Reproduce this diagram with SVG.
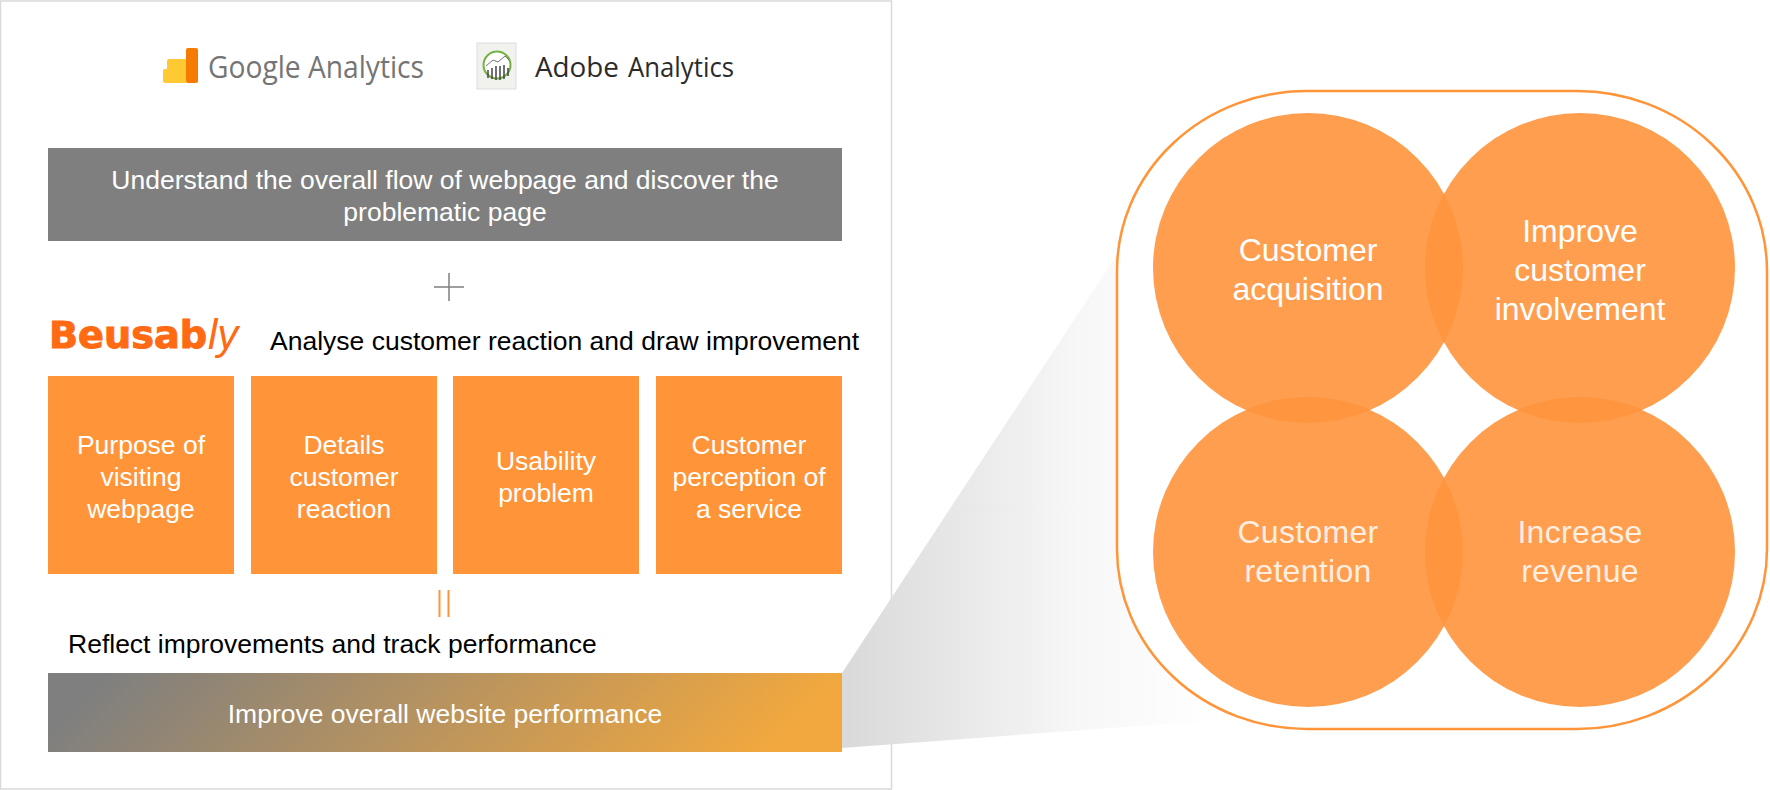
<svg xmlns="http://www.w3.org/2000/svg" width="1770" height="790" viewBox="0 0 1770 790">
<defs>
<linearGradient id="perf" gradientUnits="userSpaceOnUse" x1="100" y1="680" x2="470" y2="1050"><stop offset="0" stop-color="#7f7f7f"/><stop offset="1" stop-color="#f2a83e"/></linearGradient>
<linearGradient id="beam" gradientUnits="userSpaceOnUse" x1="842" y1="0" x2="1220" y2="0"><stop offset="0" stop-color="#d9d9d9"/><stop offset=".63" stop-color="#f7f7f7"/><stop offset="1" stop-color="#ffffff"/></linearGradient>
</defs>
<style>
text{font-family:"Liberation Sans",Arial,sans-serif}
.w{fill:#fff;font-size:26.500px;text-anchor:middle}
.b{fill:#000;font-size:26.500px}
.c{fill:#fff;font-size:32px;text-anchor:middle}
.l{fill-opacity:.85}
.logo{font-family:"Open Sans","Liberation Sans",sans-serif}
.box{fill:#ff9438}
.circ{fill:#ff943c;fill-opacity:.9}
</style>
<rect id="frame" x="0.5" y="1" width="891" height="788" fill="#fff" stroke="#d9d9d9" stroke-width="1.5"/>
<path id="zoom-beam" d="M842 673L1120 250L1220 720L842 748Z" fill="url(#beam)"/>
<g id="logos">
<g id="google-analytics">
<rect x="163" y="69" width="12" height="14" rx="2" fill="#ffc933"/>
<rect x="167" y="59" width="20" height="24" rx="2" fill="#ffc933"/>
<rect x="186" y="48" width="12" height="35" rx="2" fill="#f57c00"/>
<text class="logo" x="208" y="78" font-size="31" fill="#757575" textLength="216" lengthAdjust="spacingAndGlyphs">Google Analytics</text>
</g>
<g id="adobe-analytics">
<rect x="477" y="43" width="39" height="46" fill="#f1f1ee" stroke="#ddd"/>
<circle cx="497" cy="65" r="13.500" fill="#fff" stroke="#76b043" stroke-width="2"/>
<path d="M488 70V78M492 68V79M496 66V80M500 66V80M504 65V79M508 68V76" stroke="#444" stroke-width="1.5" fill="none"/>
<path d="M486 66L493 60L498 62L505 56L509 60" stroke="#777" fill="none"/>
<text class="logo" x="535" y="77" font-size="28" fill="#2b2b2b" textLength="84" lengthAdjust="spacingAndGlyphs">Adobe</text>
<text class="logo" x="628" y="77" font-size="28" fill="#2b2b2b" textLength="106" lengthAdjust="spacingAndGlyphs">Analytics</text>
</g>
</g>
<g id="overview"><rect x="48" y="148" width="794" height="93" fill="#7f7f7f"/>
<text class="w" x="445" y="189">Understand the overall flow of webpage and discover the</text>
<text class="w" x="445" y="221">problematic page</text></g>
<g id="plus"><path d="M449 273V301M434 287H464" stroke="#7f7f7f" stroke-width="1.5" fill="none"/></g>
<g id="beusably">
<text x="49" y="348" font-size="37" font-weight="700" fill="#ff6a13" stroke="#ff6a13" stroke-width="1" textLength="158" lengthAdjust="spacingAndGlyphs" style="font-family:'DejaVu Sans',sans-serif">Beusab</text>
<text x="208" y="349" font-size="42" font-style="italic" fill="#ff6a13">ly</text>
</g>
<text id="analyse" class="b" x="270" y="350">Analyse customer reaction and draw improvement</text>
<g id="n1"><rect class="box" x="48" y="376" width="186" height="198"/>
<text class="w" x="141" y="454">Purpose of</text><text class="w" x="141" y="486">visiting</text><text class="w" x="141" y="518">webpage</text></g>
<g id="n2"><rect class="box" x="251" y="376" width="186" height="198"/>
<text class="w" x="344" y="454">Details</text><text class="w" x="344" y="486">customer</text><text class="w" x="344" y="518">reaction</text></g>
<g id="n3"><rect class="box" x="453" y="376" width="186" height="198"/>
<text class="w" x="546" y="470">Usability</text><text class="w" x="546" y="502">problem</text></g>
<g id="n4"><rect class="box" x="656" y="376" width="186" height="198"/>
<text class="w" x="749" y="454">Customer</text><text class="w" x="749" y="486">perception of</text><text class="w" x="749" y="518">a service</text></g>
<g id="equals"><path d="M439.500 590V617M448.500 590V617" stroke="#ff9438" stroke-width="2" fill="none"/></g>
<text id="reflect" class="b" x="68" y="653">Reflect improvements and track performance</text>
<g id="performance"><rect x="48" y="673" width="794" height="79" fill="url(#perf)"/>
<text class="w" x="445" y="723">Improve overall website performance</text></g>
<g id="outcomes">
<rect x="1117" y="91" width="650" height="638" rx="190" ry="180" fill="#fff" stroke="#ff9438" stroke-width="2.500"/>
<g id="c1"><circle class="circ" cx="1308" cy="268" r="155"/></g>
<g id="c2"><circle class="circ" cx="1580" cy="268" r="155"/></g>
<g id="c3"><circle class="circ" cx="1308" cy="552" r="155"/></g>
<g id="c4"><circle class="circ" cx="1580" cy="552" r="155"/></g>
<text class="c" x="1308" y="261">Customer</text><text class="c" x="1308" y="300">acquisition</text>
<text class="c" x="1580" y="242">Improve</text><text class="c" x="1580" y="281">customer</text><text class="c" x="1580" y="320">involvement</text>
<text class="c l" x="1308" y="543" letter-spacing=".3">Customer</text><text class="c l" x="1308" y="582" letter-spacing=".3">retention</text>
<text class="c l" x="1580" y="543" letter-spacing=".3">Increase</text><text class="c l" x="1580" y="582" letter-spacing=".3">revenue</text>
</g>
</svg>
